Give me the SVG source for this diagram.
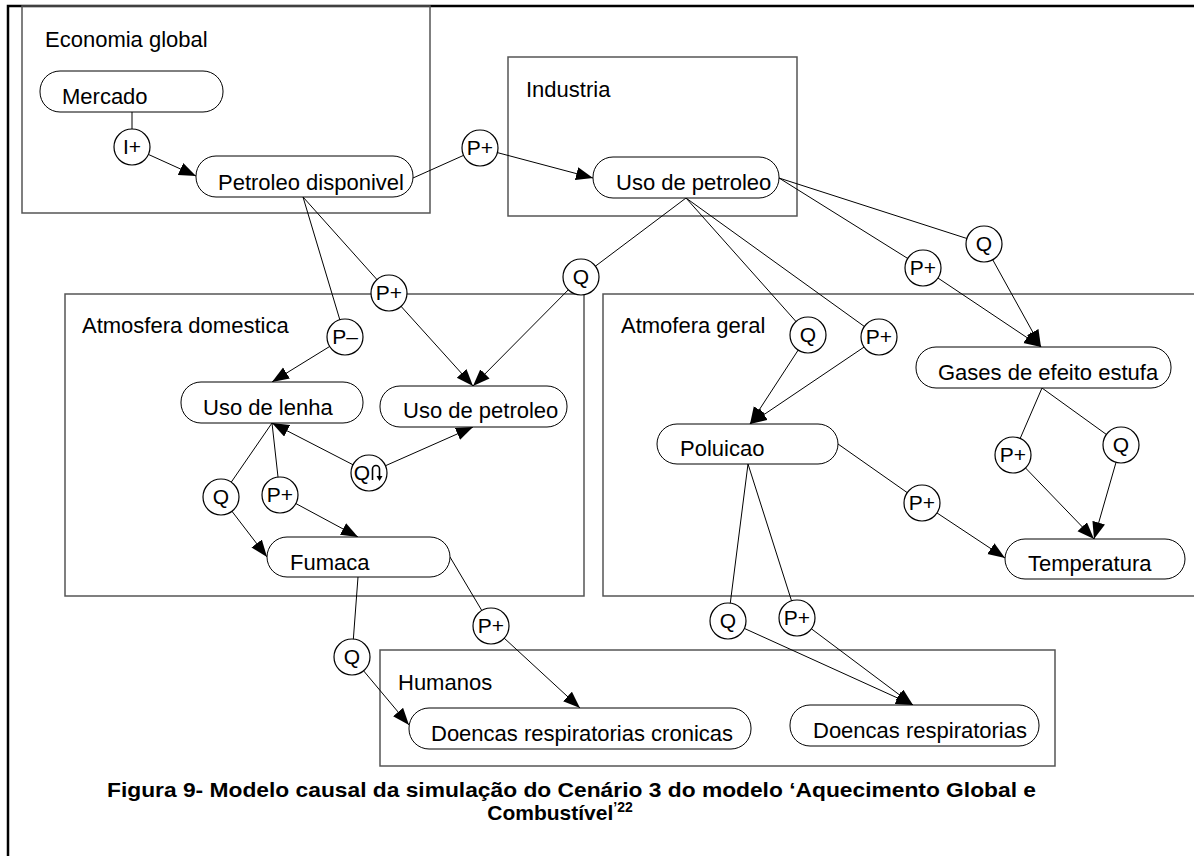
<svg xmlns="http://www.w3.org/2000/svg" width="1194" height="856" viewBox="0 0 1194 856">
<style>
.frame{stroke:#000;stroke-width:2.5;fill:none}
.box{stroke:#555;stroke-width:1.5;fill:none}
.node rect{fill:#fff;stroke:#000;stroke-width:1}
.lbl{font-family:"Liberation Sans",Arial,sans-serif;font-size:22px;fill:#000}
.ln{stroke:#000;stroke-width:1;fill:none}
.ar{stroke:#000;stroke-width:1;fill:none;marker-end:url(#ah)}
.c circle{fill:#fff;stroke:#000;stroke-width:1.2}
.c text{font-family:"Liberation Sans",Arial,sans-serif;font-size:21px;text-anchor:middle;fill:#000}
.cap{font-family:"Liberation Sans",Arial,sans-serif;font-size:21px;font-weight:bold;fill:#000}
</style>
<defs>
<marker id="ah" markerUnits="userSpaceOnUse" markerWidth="18" markerHeight="14" refX="17" refY="6.5" orient="auto">
<path d="M0,0 L17,6.5 L0,13 z" fill="#000"/>
</marker>
</defs>
<rect width="1194" height="856" fill="#fff"/>
<path class="frame" d="M8,856 V6 H1194"/>

<g id="groups">
<g id="g-economia"><rect class="box" x="22" y="6" width="408" height="207"/><text class="lbl" x="45" y="47">Economia global</text></g>
<g id="g-industria"><rect class="box" x="508" y="57" width="289" height="159"/><text class="lbl" x="526" y="97">Industria</text></g>
<g id="g-domestica"><rect class="box" x="65" y="294" width="519" height="302"/><text class="lbl" x="82" y="333">Atmosfera domestica</text></g>
<g id="g-geral"><path class="box" d="M1194,294 H603 V596 H1194"/><text class="lbl" x="621" y="333">Atmofera geral</text></g>
<g id="g-humanos"><rect class="box" x="380" y="650" width="675" height="116"/><text class="lbl" x="398" y="690">Humanos</text></g>
</g>

<g id="connectors">
<line class="ln" x1="132" y1="112" x2="132" y2="147"/>
<line class="ar" x1="132" y1="147" x2="196" y2="176"/>
<line class="ln" x1="413" y1="178" x2="480" y2="148"/>
<line class="ar" x1="480" y1="148" x2="593" y2="178"/>
<line class="ln" x1="303" y1="197" x2="345" y2="337"/>
<line class="ar" x1="345" y1="337" x2="272" y2="382"/>
<line class="ln" x1="303" y1="197" x2="389" y2="293"/>
<line class="ar" x1="389" y1="293" x2="473" y2="386"/>
<line class="ln" x1="686" y1="198" x2="581" y2="277"/>
<line class="ar" x1="581" y1="277" x2="473" y2="386"/>
<line class="ln" x1="686" y1="198" x2="808" y2="335"/>
<line class="ar" x1="808" y1="335" x2="750" y2="424"/>
<line class="ln" x1="686" y1="198" x2="879" y2="337"/>
<line class="ar" x1="879" y1="337" x2="750" y2="424"/>
<line class="ln" x1="779" y1="178" x2="923" y2="268"/>
<line class="ar" x1="923" y1="268" x2="1041" y2="347"/>
<line class="ln" x1="779" y1="178" x2="984" y2="244"/>
<line class="ar" x1="984" y1="244" x2="1041" y2="347"/>
<line class="ar" x1="369" y1="473" x2="272" y2="423"/>
<line class="ar" x1="369" y1="473" x2="473" y2="427"/>
<line class="ln" x1="272" y1="423" x2="221" y2="497"/>
<line class="ar" x1="221" y1="497" x2="267" y2="557"/>
<line class="ln" x1="272" y1="423" x2="280" y2="495"/>
<line class="ar" x1="280" y1="495" x2="358" y2="537"/>
<line class="ln" x1="1042" y1="388" x2="1013" y2="455"/>
<line class="ar" x1="1013" y1="455" x2="1094" y2="539"/>
<line class="ln" x1="1042" y1="388" x2="1121" y2="445"/>
<line class="ar" x1="1121" y1="445" x2="1094" y2="539"/>
<line class="ln" x1="838" y1="444" x2="922" y2="503"/>
<line class="ar" x1="922" y1="503" x2="1005" y2="558"/>
<line class="ln" x1="748" y1="464" x2="728" y2="621"/>
<line class="ar" x1="728" y1="621" x2="913" y2="705"/>
<line class="ln" x1="748" y1="464" x2="797" y2="618"/>
<line class="ar" x1="797" y1="618" x2="913" y2="705"/>
<line class="ln" x1="358" y1="577" x2="352" y2="657"/>
<line class="ar" x1="352" y1="657" x2="409" y2="725"/>
<line class="ln" x1="450" y1="557" x2="491" y2="626"/>
<line class="ar" x1="491" y1="626" x2="580" y2="708"/>

<g class="c">
<circle cx="132" cy="147" r="18"/><text x="132" y="154" font-family="Liberation Serif,serif">I+</text>
<circle cx="480" cy="148" r="18"/><text x="480" y="155">P+</text>
<circle cx="389" cy="293" r="18"/><text x="389" y="300">P+</text>
<circle cx="345" cy="337" r="18"/><text x="345" y="344">P–</text>
<circle cx="581" cy="277" r="18"/><text x="581" y="284">Q</text>
<circle cx="808" cy="335" r="18"/><text x="808" y="342">Q</text>
<circle cx="879" cy="337" r="18"/><text x="879" y="344">P+</text>
<circle cx="923" cy="268" r="18"/><text x="923" y="275">P+</text>
<circle cx="984" cy="244" r="18"/><text x="984" y="251">Q</text>
<circle cx="369" cy="473" r="18"/><text x="362" y="480">Q</text>
<path d="M372.5,480 V469 A3.5,3.5 0 0 1 379.5,469 V477" stroke="#000" stroke-width="1.6" fill="none"/>
<path d="M376.5,476 L382.5,476 L379.5,481 z" fill="#000"/>
<circle cx="221" cy="497" r="18"/><text x="221" y="504">Q</text>
<circle cx="280" cy="495" r="18"/><text x="280" y="502">P+</text>
<circle cx="1013" cy="455" r="18"/><text x="1013" y="462">P+</text>
<circle cx="1121" cy="445" r="18"/><text x="1121" y="452">Q</text>
<circle cx="922" cy="503" r="18"/><text x="922" y="510">P+</text>
<circle cx="352" cy="657" r="18"/><text x="352" y="664">Q</text>
<circle cx="491" cy="626" r="18"/><text x="491" y="633">P+</text>
<circle cx="728" cy="621" r="18"/><text x="728" y="628">Q</text>
<circle cx="797" cy="618" r="18"/><text x="797" y="625">P+</text>
</g>
</g>

<g id="n-mercado" class="node"><rect x="40" y="71" width="183" height="41" rx="20"/><text class="lbl" x="62" y="104">Mercado</text></g>
<g id="n-petroleo-disponivel" class="node"><rect x="196" y="156" width="217" height="41" rx="20"/><text class="lbl" x="218" y="190">Petroleo disponivel</text></g>
<g id="n-uso-petroleo-ind" class="node"><rect x="593" y="157" width="186" height="41" rx="20"/><text class="lbl" x="616" y="190">Uso de petroleo</text></g>
<g id="n-uso-lenha" class="node"><rect x="181" y="382" width="182" height="41" rx="20"/><text class="lbl" x="203" y="415">Uso de lenha</text></g>
<g id="n-uso-petroleo-dom" class="node"><rect x="380" y="386" width="187" height="41" rx="20"/><text class="lbl" x="403" y="418">Uso de petroleo</text></g>
<g id="n-fumaca" class="node"><rect x="267" y="537" width="183" height="40" rx="20"/><text class="lbl" x="290" y="570">Fumaca</text></g>
<g id="n-poluicao" class="node"><rect x="657" y="424" width="181" height="40" rx="20"/><text class="lbl" x="680" y="456">Poluicao</text></g>
<g id="n-gases" class="node"><rect x="916" y="347" width="255" height="41" rx="20"/><text class="lbl" x="938" y="380">Gases de efeito estufa</text></g>
<g id="n-temperatura" class="node"><rect x="1005" y="539" width="180" height="40" rx="20"/><text class="lbl" x="1028" y="571">Temperatura</text></g>
<g id="n-doencas-cronicas" class="node"><rect x="409" y="708" width="342" height="41" rx="20"/><text class="lbl" x="431" y="741">Doencas respiratorias cronicas</text></g>
<g id="n-doencas" class="node"><rect x="790" y="705" width="249" height="41" rx="20"/><text class="lbl" x="813" y="738">Doencas respiratorias</text></g>

<g id="caption">
<text class="cap" x="107" y="797" textLength="929" lengthAdjust="spacingAndGlyphs">Figura 9- Modelo causal da simulação do Cenário 3 do modelo ‘Aquecimento Global e</text>
<text class="cap" x="560" y="820" text-anchor="middle">Combustível<tspan font-size="14" dy="-8">’22</tspan></text>
</g>
</svg>
